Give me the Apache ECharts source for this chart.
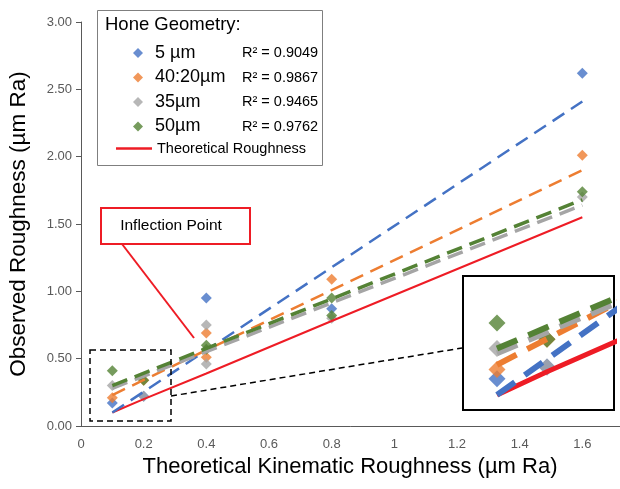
<!DOCTYPE html>
<html><head><meta charset="utf-8">
<script src="https://cdn.jsdelivr.net/npm/echarts@6/dist/echarts.min.js"></script>
<style>html,body{margin:0;padding:0;background:#fff}#c{width:620px;height:489px}</style>
</head><body><div id="c"></div>
<script>
// ---- data ----
const seriesNames = ['5 µm', '40:20µm', '35µm', '50µm'];
const r2Values = ['0.9049', '0.9867', '0.9465', '0.9762'];
const colors = ['#4472C4', '#ED7D31', '#A5A5A5', '#548235'];

const hone5X = [0.1, 0.2, 0.4, 0.8, 1.6];
const hone5Y = [0.17, 0.22, 0.95, 0.87, 2.62];
const hone4020X = [0.1, 0.2, 0.4, 0.4, 0.8, 1.6];
const hone4020Y = [0.21, 0.34, 0.69, 0.51, 1.09, 2.01];
const hone35X = [0.1, 0.2, 0.4, 0.4, 0.8, 1.6];
const hone35Y = [0.30, 0.22, 0.75, 0.46, 0.80, 1.70];
const hone50X = [0.1, 0.2, 0.4, 0.4, 0.8, 0.8, 1.6];
const hone50Y = [0.41, 0.34, 0.60, 0.57, 0.95, 0.82, 1.74];

const trendX = [0.1, 1.6];
const trend5Y = [0.10, 2.41];
const trend4020Y = [0.23, 1.90];
const trend35Y = [0.28, 1.64];
const trend50Y = [0.30, 1.68];

const theoName = 'Theoretical Roughness';
const theoX = [0.1, 0.2, 0.4, 0.8, 1.6];
const theoY = [0.10, 0.20, 0.39, 0.78, 1.55];

// ---- build ----
const pairs = (xs, ys) => xs.map((x, i) => [x, ys[i]]);
const scatterX = [hone5X, hone4020X, hone35X, hone50X];
const scatterY = [hone5Y, hone4020Y, hone35Y, hone50Y];
const trendY = [trend5Y, trend4020Y, trend35Y, trend50Y];
const RED = '#EE1C25';
const FONT = 'Liberation Sans, Arial, sans-serif';

const series = [];
[0, 1].forEach(g => {
  const inset = g === 1;
  seriesNames.forEach((name, i) => {
    series.push({
      type: 'scatter', name, xAxisIndex: g, yAxisIndex: g,
      data: pairs(scatterX[i], scatterY[i]),
      symbol: 'diamond', symbolSize: inset ? 17 : 11,
      itemStyle: { color: colors[i] }, z: inset ? 7 : 3, clip: true
    });
  });
  series.push({
    type: 'line', name: theoName, xAxisIndex: g, yAxisIndex: g,
    data: pairs(theoX, theoY), symbol: 'none', showSymbol: false,
    itemStyle: { color: RED },
    lineStyle: { color: RED, width: inset ? 5 : 2 }, z: inset ? 8 : 4
  });
  seriesNames.forEach((name, i) => {
    const thick = i >= 2;
    series.push({
      type: 'line', name: name + ' trend', xAxisIndex: g, yAxisIndex: g,
      data: pairs(trendX, trendY[i]), symbol: 'none', showSymbol: false, silent: true,
      lineStyle: {
        color: colors[i],
        width: inset ? 6 : (thick ? 3.5 : 2.5),
        type: inset ? [22, 12] : (thick ? [16, 8] : [14, 8])
      },
      z: inset ? 9 : 5
    });
  });
});

const chart = echarts.init(document.getElementById('c'));
chart.setOption({
  animation: false,
  backgroundColor: '#fff',
  grid: [
    { left: 81, top: 22, width: 564, height: 404, outerBoundsMode: 'none', containLabel: false },
    { left: 463, top: 276, width: 151, height: 134, outerBoundsMode: 'none', show: true, borderColor: '#000', borderWidth: 2, backgroundColor: '#fff', z: 6 }
  ],
  xAxis: [
    {
      type: 'value', gridIndex: 0, min: 0, max: 1.8, interval: 0.2,
      axisLine: { show: true, lineStyle: { color: '#595959', width: 1 } },
      axisTick: { show: false }, splitLine: { show: false },
      axisLabel: { fontSize: 13, color: '#595959', fontFamily: FONT, margin: 12,
        formatter: v => (v > 1.65 ? '' : String(+v.toFixed(1))) },
      name: 'Theoretical Kinematic Roughness (µm Ra)', nameLocation: 'middle', nameGap: 30,
      nameTextStyle: { fontSize: 22, color: '#000', fontFamily: FONT, padding: [0, 26, 0, 0] }
    },
    { type: 'value', gridIndex: 1, min: 0.032, max: 0.334, show: false }
  ],
  yAxis: [
    {
      type: 'value', gridIndex: 0, min: 0, max: 3, interval: 0.5,
      axisLine: { show: true, lineStyle: { color: '#595959', width: 1 } },
      axisTick: { show: true, length: 5, lineStyle: { color: '#595959' } },
      splitLine: { show: false },
      axisLabel: { fontSize: 13, color: '#595959', fontFamily: FONT, margin: 9,
        formatter: v => v.toFixed(2) },
      name: 'Observed Roughness (µm Ra)', nameLocation: 'middle', nameGap: 51,
      nameTextStyle: { fontSize: 22.5, color: '#000', fontFamily: FONT }
    },
    { type: 'value', gridIndex: 1, min: 0.035, max: 0.613, show: false }
  ],
  legend: [
    {
      data: seriesNames.map(n => ({ name: n, icon: 'diamond' })),
      orient: 'vertical', left: 128, top: 39, itemWidth: 10, itemHeight: 10, itemGap: 6.5,
      z: 20, selectedMode: false,
      formatter: name => `{n|${name}}{r|R² = ${r2Values[seriesNames.indexOf(name)]}}`,
      textStyle: {
        rich: {
          n: { fontFamily: FONT, fontSize: 18, color: '#000', width: 87, padding: [0, 0, 0, 7] },
          r: { fontFamily: FONT, fontSize: 14.5, color: '#000' }
        }
      }
    },
    {
      data: [{ name: theoName, icon: 'rect' }], orient: 'vertical', left: 111, top: 136,
      itemWidth: 36, itemHeight: 2.5, z: 20, selectedMode: false,
      itemStyle: { color: RED },
      textStyle: { fontFamily: FONT, fontSize: 14.5, color: '#000' }
    }
  ],
  graphic: [
    { type: 'rect', z: 15, shape: { x: 97.5, y: 10.5, width: 225, height: 155 },
      style: { fill: '#fff', stroke: '#7f7f7f', lineWidth: 1 } },
    { type: 'text', z: 21, x: 105, y: 25,
      style: { text: 'Hone Geometry:', fontSize: 18.5, fontFamily: FONT, fill: '#000', verticalAlign: 'middle' } },
    { type: 'line', z: 15, shape: { x1: 122, y1: 244, x2: 194, y2: 338 },
      style: { stroke: RED, lineWidth: 2 } },
    { type: 'rect', z: 16, shape: { x: 101, y: 208, width: 149, height: 36 },
      style: { fill: '#fff', stroke: RED, lineWidth: 2 } },
    { type: 'text', z: 17, x: 171, y: 226,
      style: { text: 'Inflection Point', fontSize: 15.5, fontFamily: FONT, fill: '#000', align: 'center', verticalAlign: 'middle' } },
    { type: 'rect', z: 15, shape: { x: 90, y: 350, width: 81, height: 71 },
      style: { fill: null, stroke: '#000', lineWidth: 1.5, lineDash: [6, 4] } },
    { type: 'line', z: 15, shape: { x1: 171, y1: 396, x2: 462, y2: 348 },
      style: { stroke: '#000', lineWidth: 1.5, lineDash: [6, 4] } }
  ],
  series
});
</script></body></html>
